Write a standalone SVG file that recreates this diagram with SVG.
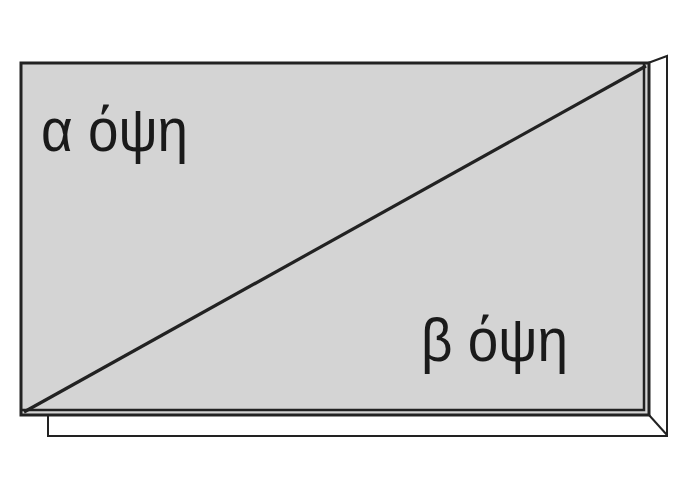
<svg xmlns="http://www.w3.org/2000/svg" width="700" height="500" viewBox="0 0 700 500">
<style>
.ln{stroke:#222;fill:none;stroke-linejoin:miter}
.lbl{font-family:"Liberation Sans",Arial,sans-serif;font-size:61px;fill:#1a1a1a}
</style>
<rect width="700" height="500" fill="#fff"/>
<g id="frame">
<polygon points="648,63 667,56 667,436 48,436 48,415 648,415" fill="#fff" stroke="#222" stroke-width="2"/>
<line class="ln" x1="649" y1="415" x2="667" y2="435" stroke-width="2"/>
</g>
<g id="panel">
<rect x="21" y="63" width="628" height="352" fill="#d4d4d4" stroke="#222" stroke-width="3"/>
<polyline class="ln" points="644,64 644,410 22,410" stroke-width="2.5"/>
</g>
<g id="connectors">
<line class="ln" x1="24" y1="412" x2="646" y2="66" stroke-width="3.2"/>
</g>
<g id="label-a"><text class="lbl" x="41" y="151" textLength="147" lengthAdjust="spacingAndGlyphs">α όψη</text></g>
<g id="label-b"><text class="lbl" x="421" y="361" textLength="147" lengthAdjust="spacingAndGlyphs">β όψη</text></g>
</svg>
